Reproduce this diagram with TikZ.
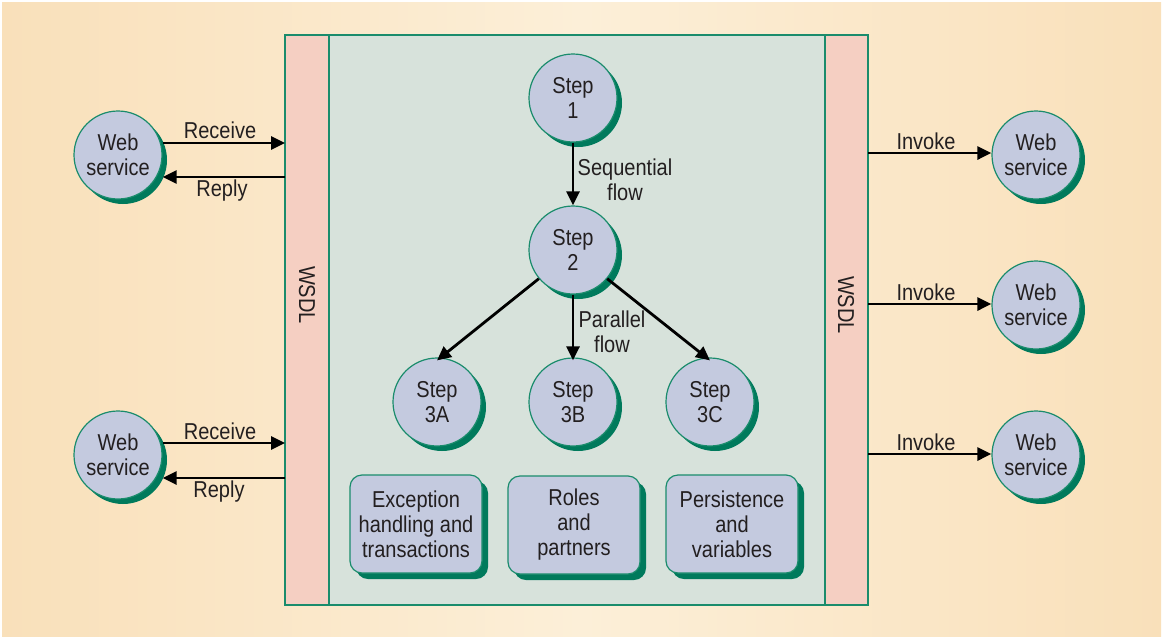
\documentclass[tikz,border=0pt]{standalone}
\usepackage{fontspec}
\setmainfont{Liberation Sans}[FakeStretch=0.87]
\usetikzlibrary{arrows.meta,shadows}
\definecolor{bgedge}{HTML}{F9E0BA}
\definecolor{bgmid}{HTML}{FCEFD8}
\definecolor{rimgreen}{HTML}{1A8C6C}
\definecolor{shadegreen}{HTML}{007A5C}
\definecolor{stepblue}{HTML}{C4CADF}
\definecolor{panelgray}{HTML}{D7E2DB}
\definecolor{wsdlpink}{HTML}{F5CFC2}
\definecolor{inkgray}{HTML}{231F20}
\begin{document}
\begin{tikzpicture}[x=1pt,y=-1pt,
		font=\fontsize{23}{25}\selectfont, text=inkgray,
		ball/.style={circle, draw=rimgreen, line width=1.2, fill=stepblue,
			minimum size=88, inner sep=0, align=center,
			drop shadow={shadow xshift=5pt, shadow yshift=-5pt, fill=shadegreen, opacity=1}},
		card/.style={rectangle, rounded corners=12, draw=rimgreen, line width=1.2, fill=stepblue,
			minimum width=132, minimum height=98, inner sep=0, align=center,
			drop shadow={shadow xshift=6pt, shadow yshift=-6pt, fill=shadegreen, opacity=1}},
		flow/.style={line width=2.8, draw=black, -{Triangle[length=14,width=13]}},
		lbl/.style={inner sep=0, align=center}]
		\useasboundingbox (0,0) rectangle (1163,638);
		\fill[white] (0,0) rectangle (1163,638);
		\shade[left color=bgedge, right color=bgedge, middle color=bgmid] (2,2) rectangle (1161,636);
		% BPEL process box
		\filldraw[fill=panelgray, draw=rimgreen, line width=1.5] (329,35) rectangle (825,605);
		\filldraw[fill=wsdlpink, draw=rimgreen, line width=1.5] (285,35) rectangle (329,605);
		\filldraw[fill=wsdlpink, draw=rimgreen, line width=1.5] (825,35) rectangle (868,605);
		\node[lbl, rotate=-90] (wsdlL) at (307,295) {WSDL};
		\node[lbl, rotate=-90] (wsdlR) at (846,305) {WSDL};
		\coordinate (edgeL) at (285,0);
		\coordinate (edgeR) at (868,0);
		% partners
		\node[ball] (wsA) at (118,155) {Web\\service};
		\node[ball] (wsB) at (118,455) {Web\\service};
		\foreach \n/\y in {C/155, D/305, E/455}
			\node[ball] (ws\n) at (1036,\y) {Web\\service};
		% steps
		\node[ball] (s1) at (573,98) {Step\\1};
		\node[ball] (s2) at (573,250) {Step\\2};
		\node[ball] (s3a) at (437,402) {Step\\3A};
		\node[ball] (s3b) at (573,402) {Step\\3B};
		\node[ball] (s3c) at (710,402) {Step\\3C};
		\node[card] (exc) at (416,524) {Exception\\handling and\\transactions};
		\node[card] (roles) at (574,525) {Roles\\and\\partners};
		\node[card] (pers) at (732,524) {Persistence\\and\\variables};
		% receive / reply
		\foreach \w/\a/\b in {wsA/143/177, wsB/443/478} {
			\draw[flow] (\w.east |- 0,\a) -- (edgeL |- 0,\a);
			\draw[flow] (edgeL |- 0,\b) -- (\w.east |- 0,\b);
		}
		\node[lbl] (recA) at (220,130) {Receive};
		\node[lbl] (repA) at (222,191) {Reply};
		\node[lbl] (recB) at (220,431) {Receive};
		\node[lbl] (repB) at (219,492) {Reply};
		% invoke
		\foreach \w/\y in {wsC/153, wsD/304, wsE/454} {
			\draw[flow] (edgeR |- 0,\y) -- (\w.west |- 0,\y);
			\node[lbl] at (926,\y-12) {Invoke};
		}
		% flows
		\draw[flow] (s1) -- (s2);
		\node[lbl] (seq) at (625,180) {Sequential\\flow};
		\draw[flow] (s2.220) -- ([yshift=-3]s3a.north);
		\draw[flow] (s2.south) -- ([yshift=-3]s3b.north);
		\draw[flow] (s2.-40) -- ([yshift=-3]s3c.north);
		\node[lbl] (par) at (612,332) {Parallel\\flow};
	\end{tikzpicture}
\end{document}
